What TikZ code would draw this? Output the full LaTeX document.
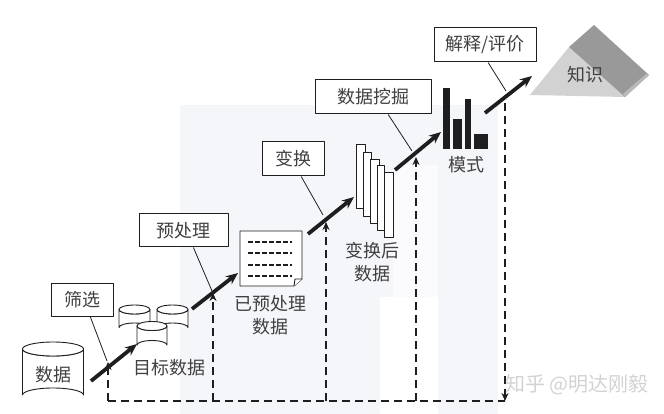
\documentclass[tikz,border=0pt]{standalone}
\usepackage{fontspec}
\setmainfont{Noto Sans CJK SC}
\usepackage{xcolor}
\usetikzlibrary{calc, arrows.meta}
\definecolor{tint}{RGB}{245,246,250}
\definecolor{paletint}{RGB}{251,251,253}
\definecolor{ink}{RGB}{30,30,32}
\tikzset{
  stagebox/.style={draw=ink, line width=1pt, fill=white, inner sep=0pt, font=\fontsize{18}{18}\selectfont, text=ink!85},
  caption/.style={inner sep=0pt, align=center, font=\fontsize{18}{23}\selectfont, text=ink!85},
  leader/.style={draw=ink, line width=0.8pt},
  flow/.style={draw=ink, line width=3.8pt, -{Stealth[length=12pt,width=10pt]}},
  loopback/.style={draw=ink, line width=2.3pt, dash pattern=on 8pt off 5pt},
  backtip/.style={loopback, -{Stealth[length=8pt,width=7pt]}},
  sheet/.style={draw=ink, line width=0.9pt, fill=white},
  bar/.style={fill=ink}
}
% one drum: centre of the top ellipse, half width, half height of the ellipse, body height
\newcommand{\drum}[4]{
  \draw[sheet] (#1) ++(-#2,0) -- ++(0,#4) arc[start angle=180, end angle=360, x radius=#2, y radius=#3]
    -- ++(0,-#4) arc[start angle=0, end angle=180, x radius=#2, y radius=#3] -- cycle;
  \draw[sheet] (#1) ellipse[x radius=#2, y radius=#3];
}
\begin{document}
\begin{tikzpicture}[x=1pt, y=-1pt, line join=round]

    \useasboundingbox (0,0) rectangle (664,414);

    % Faint background bands
    \fill[tint] (180,105) rectangle (498,414);
    \fill[paletint] (393,165) rectangle (438,297);
    \fill[white] (380,297) rectangle (438,414);

    % Points where the dashed returns meet the process line
    \coordinate (S1) at (107,361);
    \coordinate (S2) at (212,291);
    \coordinate (S3) at (323,215);
    \coordinate (S4) at (412,151);
    \coordinate (S5) at (506,91);

    % Data stores
    \drum{53,349}{30.5}{7}{46}
    \drum{134.5,309.5}{15.5}{4.5}{18}
    \drum{172.5,309.5}{15.5}{4.5}{18}
    \drum{152,326}{15}{4.5}{19}
    \node[caption] (raw) at (53,375) {数据};
    \node[caption] (target) at (169,368) {目标数据};

    % Preprocessed sheet with its folded corner
    \draw[sheet] (240,231) -- (302,231) -- (302,279) -- (294,286) -- (240,286) -- cycle;
    \draw[sheet] (302,279) -- (295,279) -- (294,286);
    \foreach \y in {242,253,265,276}
        \draw[ink, line width=1.6pt, dash pattern=on 5pt off 2pt] (248,\y) -- (292,\y);
    \node[caption] (clean) at (270,315) {已预处理\\数据};

    % Stack of transformed sheets
    \draw[sheet] (356,144) rectangle (365,208);
    \draw[sheet] (363,152) rectangle (371,216);
    \draw[sheet] (370,159) rectangle (379,223);
    \draw[sheet] (377,165) rectangle (384,230);
    \draw[sheet] (384,172) rectangle (393,237);
    \node[caption] (moved) at (372,262) {变换后\\数据};

    % Bars of the pattern
    \fill[bar] (443,88) rectangle (450,149);
    \fill[bar] (453,119) rectangle (462,149);
    \fill[bar] (465,99) rectangle (471,149);
    \fill[bar] (474,134) rectangle (488,149);
    \node[caption] (pattern) at (466,165) {模式};

    % Knowledge pyramid
    \fill[gray!35] (530,95) -- (569,47) -- (625,97) -- cycle;
    \fill[gray!80] (569,47) -- (594,25) -- (649,75) -- (625,97) -- cycle;
    \fill[gray!55] (625,97) -- (649,75) -- (646,74) -- (623,94) -- cycle;
    \node[caption] (insight) at (585,75) {知识};

    % Stage boxes
    \node[stagebox, minimum width=62pt, minimum height=33pt] (filter) at (82,299.5) {筛选};
    \node[stagebox, minimum width=89pt, minimum height=33pt] (prepare) at (183.5,230.5) {预处理};
    \node[stagebox, minimum width=62pt, minimum height=34pt] (convert) at (293,159) {变换};
    \node[stagebox, minimum width=116pt, minimum height=34pt] (mine) at (373,97) {数据挖掘};
    \node[stagebox, minimum width=102pt, minimum height=34pt] (judge) at (485,45) {解释/评价};

    % Leader lines from the boxes
    \draw[leader] ($(filter.south west)!0.63!(filter.south east)$) -- (S1);
    \draw[leader] ($(prepare.south west)!0.61!(prepare.south east)$) -- (S2);
    \draw[leader] ($(convert.south west)!0.63!(convert.south east)$) -- (S3);
    \draw[leader] ($(mine.south west)!0.63!(mine.south east)$) -- (S4);
    \draw[leader] ($(judge.south west)!0.53!(judge.south east)$) -- (S5);

    % Dashed return paths
    \draw[loopback] (108,401) -- (505,401);
    \draw[backtip] (108,401) -- (108,362);
    \draw[backtip] (213,401) -- (213,293);
    \draw[backtip] (326,401) -- (326,222);
    \draw[backtip] (416,401) -- (416,157);
    \draw[backtip] (505,103) -- (505,401);

    % Main flow arrows
    \draw[flow] (91,381) -- (137,344);
    \draw[flow] (192,309) -- (238,273);
    \draw[flow] (308,234) -- (354,197);
    \draw[flow] (395,170) -- (441,132);
    \draw[flow] (485,113) -- (532,76);

    % Watermark
    \node[inner sep=0pt, text=gray!35, font=\fontsize{20}{20}\selectfont] (mark) at (577,385) {知乎 @明达刚毅};

\end{tikzpicture}
\end{document}
